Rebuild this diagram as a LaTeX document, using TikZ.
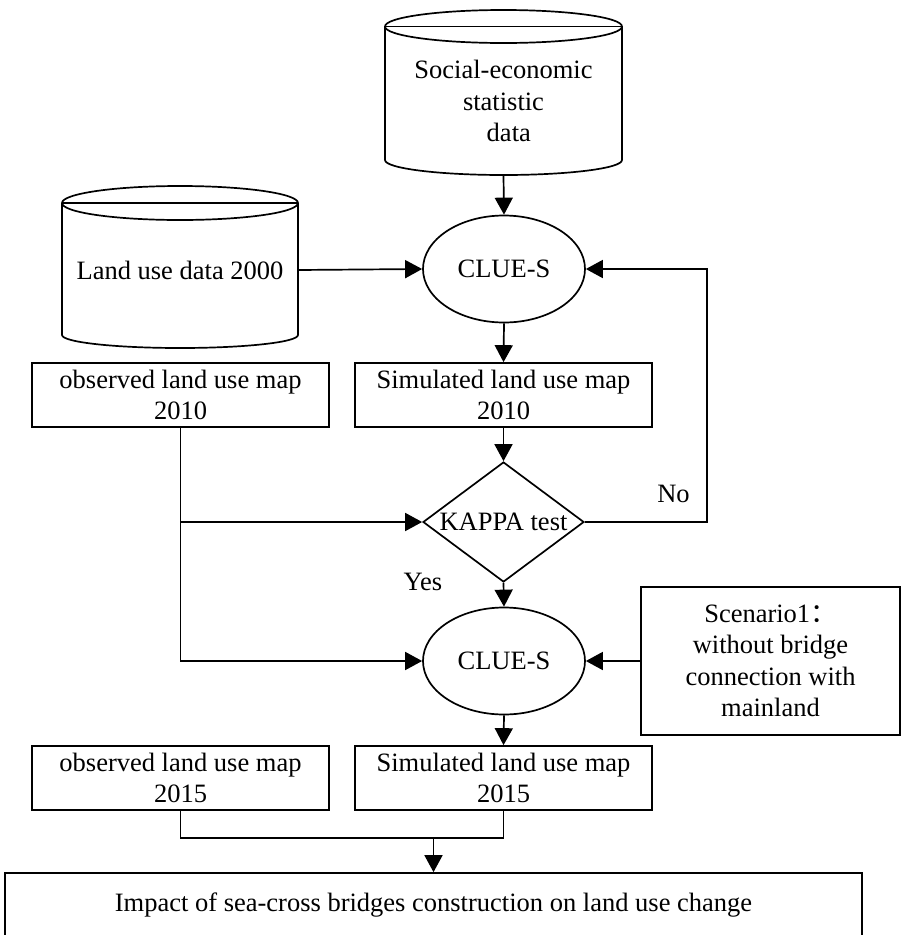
\documentclass[tikz,border=0pt]{standalone}
\usepackage{fontspec}
\setmainfont{Liberation Serif}
\newfontfamily\cjk{Noto Sans CJK SC}
\usetikzlibrary{arrows.meta,shapes.geometric}
\tikzset{
  ln/.style={line width=1.7pt},
  arr/.style={ln,-{Triangle[length=17pt,width=18pt]}},
  boxnode/.style={draw,ln,minimum width=297pt,minimum height=64pt,inner sep=0pt,align=center},
  cluenode/.style={draw,ln,ellipse,minimum width=162pt,minimum height=107pt,inner sep=0pt},
  testnode/.style={draw,ln,diamond,shape aspect=1.34,minimum width=161pt,minimum height=120pt,inner sep=0pt},
  txt/.style={inner sep=0pt,align=center}
}
\begin{document}
\begin{tikzpicture}[x=1pt,y=-1pt,font=\fontsize{26.5pt}{31.5pt}\selectfont]
\useasboundingbox (0,0) rectangle (904,935);
\clip (0,0) rectangle (904,935);
% social-economic cylinder
\draw[ln] (503.5,26.5) ellipse [x radius=118.5, y radius=16.5];
\draw[ln] (385,26.5) -- (622,26.5);
\draw[ln] (385,26.5) -- (385,160) arc[start angle=180,end angle=0,x radius=118.5,y radius=15] -- (622,26.5);
\node[txt] (soc) at (503.5,101) {Social-economic\\statistic\\\hspace*{0.4em}data};
\coordinate (socb) at (503.5,175);
% land use cylinder
\draw[ln] (180,203) ellipse [x radius=118, y radius=17];
\draw[ln] (62,203) -- (298,203);
\draw[ln] (62,203) -- (62,335) arc[start angle=180,end angle=0,x radius=118,y radius=13] -- (298,203);
\node[txt,minimum width=236pt] (land) at (180,270) {Land use data 2000};
% main nodes
\node[cluenode] (clue1) at (504,269) {CLUE-S};
\node[boxnode] (obs10) at (180.5,395) {observed land use map\\2010};
\node[boxnode] (sim10) at (503.5,395) {Simulated land use map\\2010};
\node[testnode] (kappa) at (503.5,522) {KAPPA test};
\node[cluenode] (clue2) at (504,661) {CLUE-S};
\node[draw,ln,minimum width=259pt,minimum height=148pt,inner sep=0pt,align=center] (scen) at (770.5,661)
  {Scenario1{\cjk ：}\\without bridge\\connection with\\mainland};
\node[boxnode] (obs15) at (180.5,778) {observed land use map\\2015};
\node[boxnode] (sim15) at (503.5,778) {Simulated land use map\\2015};
\node[draw,ln,minimum width=857pt,minimum height=64pt,inner sep=0pt] (final) at (433.5,905)
  {Impact of sea-cross bridges construction on land use change};
\node[anchor=base,inner sep=0pt] (no) at (673.5,502) {No};
\node[anchor=base,inner sep=0pt] (yes) at (423,590) {Yes};
% connectors
\coordinate (fb) at (707,269);
\coordinate (j) at (433.5,838);
\draw[arr] (socb) -- (clue1.north);
\draw[arr] (land.east) -- (clue1.west);
\draw[arr] (clue1.south) -- (sim10.north);
\draw[arr] (sim10.south) -- (kappa.north);
\draw[arr] (kappa.south) -- (clue2.north);
\draw[arr] (kappa.east) -| (fb) -- (clue1.east);
\draw[arr] (obs10.south) |- (clue2.west);
\draw[arr] (obs10.south |- kappa.west) -- (kappa.west);
\draw[arr] (scen.west) -- (clue2.east);
\draw[arr] (clue2.south) -- (sim15.north);
\draw[ln] (obs15.south) -- (obs15.south |- j) -- (sim15.south |- j) -- (sim15.south);
\draw[arr] (j) -- (final.north);
\end{tikzpicture}
\end{document}
